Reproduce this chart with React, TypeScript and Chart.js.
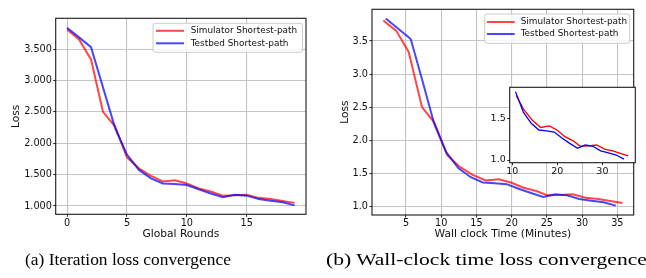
import { useEffect, useRef } from "react";
import { Chart, registerables } from "chart.js";

Chart.register(...registerables);

// ---------------- data ----------------
const rounds = [0, 1, 2, 3, 4, 5, 6, 7, 8, 9, 10, 11, 12, 13, 14, 15, 16, 17, 18, 19];
const simLoss = [3.81, 3.654, 3.335, 2.5, 2.27, 1.775, 1.6, 1.48, 1.39, 1.41, 1.36, 1.28, 1.23, 1.165, 1.17, 1.18, 1.13, 1.11, 1.08, 1.05];
const testLoss = [3.84, 3.686, 3.53, 2.89, 2.25, 1.82, 1.575, 1.44, 1.36, 1.35, 1.335, 1.265, 1.2, 1.14, 1.18, 1.165, 1.11, 1.085, 1.06, 1.01];
const simTime = [1.78, 3.62, 5.38, 7.27, 9.0, 10.85, 12.6, 14.4, 16.3, 18.2, 19.9, 21.7, 23.5, 25.1, 26.9, 28.7, 30.5, 32.3, 34.0, 35.73];
const testTime = [2.12, 3.9, 5.67, 7.35, 9.0, 10.7, 12.45, 14.2, 15.9, 17.6, 19.3, 21.0, 22.75, 24.48, 26.2, 27.9, 29.6, 31.35, 33.05, 34.79];

const seriesNames = ["Simulator Shortest-path", "Testbed Shortest-path"];
const roundTicks = [0, 5, 10, 15];
const timeTicks = [5, 10, 15, 20, 25, 30, 35];
const lossTicks = [1.0, 1.5, 2.0, 2.5, 3.0, 3.5];
const insetTimeTicks = [10, 20, 30];
const insetLossTicks = [1.0, 1.5];
const insetStartIndex = 5;
const captions = ["(a) Iteration loss convergence", "(b) Wall-clock time loss convergence"];
const axisTitles = { roundsX: "Global Rounds", timeX: "Wall clock Time (Minutes)", lossY: "Loss" };

// ---------------- styles ----------------
const FONT = "DejaVu Sans";
const RED_A = "rgba(255,0,0,0.72)";
const BLUE_A = "rgba(0,0,255,0.72)";
const TEXT = "#111111";
const GRID = "#c4c4c4";

const zip = (xs: number[], ys: number[]) => xs.map((x, i) => ({ x, y: ys[i] }));

const framePlugin = {
  id: "frame",
  beforeDraw(chart: any) {
    const o = chart.options.plugins.frame || {};
    if (!o.fill) return;
    const { ctx, chartArea: a } = chart;
    ctx.save();
    ctx.fillStyle = o.fill;
    ctx.fillRect(a.left, a.top, a.right - a.left, a.bottom - a.top);
    ctx.restore();
  },
  afterDatasetsDraw(chart: any) {
    const { ctx, chartArea: a } = chart;
    ctx.save();
    ctx.strokeStyle = "#1a1a1a";
    ctx.lineWidth = 1.1;
    ctx.strokeRect(a.left, a.top, a.right - a.left, a.bottom - a.top);
    ctx.restore();
  },
};

function makeLegendPlugin(box: { x: number; y: number; w: number; h: number; r1: number; r2: number; s0: number; s1: number; tx: number }) {
  return {
    id: "boxLegend",
    afterDraw(chart: any) {
      const ctx = chart.ctx;
      ctx.save();
      const { x, y, w, h } = box;
      const r = 2.5;
      ctx.beginPath();
      ctx.moveTo(x + r, y);
      ctx.lineTo(x + w - r, y);
      ctx.quadraticCurveTo(x + w, y, x + w, y + r);
      ctx.lineTo(x + w, y + h - r);
      ctx.quadraticCurveTo(x + w, y + h, x + w - r, y + h);
      ctx.lineTo(x + r, y + h);
      ctx.quadraticCurveTo(x, y + h, x, y + h - r);
      ctx.lineTo(x, y + r);
      ctx.quadraticCurveTo(x, y, x + r, y);
      ctx.closePath();
      ctx.fillStyle = "rgba(255,255,255,0.8)";
      ctx.fill();
      ctx.strokeStyle = "#cccccc";
      ctx.lineWidth = 1;
      ctx.stroke();
      const rows = [box.r1, box.r2];
      chart.data.datasets.forEach((ds: any, i: number) => {
        const ry = y + rows[i];
        ctx.strokeStyle = ds.borderColor;
        ctx.lineWidth = 2;
        ctx.beginPath();
        ctx.moveTo(x + box.s0, ry);
        ctx.lineTo(x + box.s1, ry);
        ctx.stroke();
        ctx.fillStyle = TEXT;
        ctx.font = `8.9px "${FONT}"`;
        ctx.textBaseline = "middle";
        ctx.textAlign = "left";
        ctx.fillText(ds.label, x + box.tx, ry);
      });
      ctx.restore();
    },
  };
}

type MainOpts = {
  simX: number[];
  testX: number[];
  xMin: number;
  xMax: number;
  yMin: number;
  yMax: number;
  xTicks: number[];
  yTicks: number[];
  yFmt: (v: number) => string;
  xTitle: string;
  pad: { top: number; right: number };
  yWidth: number;
  xHeight: number;
  yTitlePad: number;
  xTitlePad: number;
  yTickPad: number;
  legend: any;
};

function mainConfig(o: MainOpts): any {
  return {
    type: "line",
    data: {
      datasets: [
        { label: seriesNames[0], data: zip(o.simX, simLoss), borderColor: RED_A, borderWidth: 2, pointRadius: 0, tension: 0, order: 2, fill: false },
        { label: seriesNames[1], data: zip(o.testX, testLoss), borderColor: BLUE_A, borderWidth: 2, pointRadius: 0, tension: 0, order: 1, fill: false },
      ],
    },
    options: {
      animation: false,
      responsive: false,
      events: [],
      layout: { padding: { left: 0, top: o.pad.top, right: o.pad.right, bottom: 0 } },
      plugins: { legend: { display: false }, tooltip: { enabled: false }, frame: {} },
      scales: {
        x: {
          type: "linear",
          min: o.xMin,
          max: o.xMax,
          afterBuildTicks: (s: any) => {
            s.ticks = o.xTicks.map((v) => ({ value: v }));
          },
          afterFit: (s: any) => {
            s.height = o.xHeight;
          },
          ticks: { color: TEXT, font: { family: FONT, size: 9.7 }, padding: 0.5, maxRotation: 0, autoSkip: false, callback: (v: number) => String(v) },
          title: { display: true, text: o.xTitle, color: TEXT, font: { family: FONT, size: 10.7 }, padding: { top: 0, bottom: o.xTitlePad } },
          grid: { color: GRID, lineWidth: 1.1, drawTicks: true, tickLength: 2.5, tickColor: "#222", tickWidth: 1 },
          border: { display: false },
        },
        y: {
          type: "linear",
          min: o.yMin,
          max: o.yMax,
          afterBuildTicks: (s: any) => {
            s.ticks = o.yTicks.map((v) => ({ value: v }));
          },
          afterFit: (s: any) => {
            s.width = o.yWidth;
          },
          ticks: { color: TEXT, font: { family: FONT, size: 9.7 }, padding: o.yTickPad, autoSkip: false, callback: (v: number) => o.yFmt(v) },
          title: { display: true, text: axisTitles.lossY, color: TEXT, font: { family: FONT, size: 10.7 }, padding: { top: o.yTitlePad, bottom: 0 } },
          grid: { color: GRID, lineWidth: 1.1, drawTicks: true, tickLength: 2.5, tickColor: "#222", tickWidth: 1 },
          border: { display: false },
        },
      },
    },
    plugins: [framePlugin, makeLegendPlugin(o.legend)],
  };
}

function insetConfig(): any {
  return {
    type: "line",
    data: {
      datasets: [
        { label: seriesNames[0], data: zip(simTime.slice(insetStartIndex), simLoss.slice(insetStartIndex)), borderColor: "#ff0000", borderWidth: 1.3, pointRadius: 0, tension: 0, order: 2 },
        { label: seriesNames[1], data: zip(testTime.slice(insetStartIndex), testLoss.slice(insetStartIndex)), borderColor: "#0000ff", borderWidth: 1.3, pointRadius: 0, tension: 0, order: 1 },
      ],
    },
    options: {
      animation: false,
      responsive: false,
      events: [],
      layout: { padding: { left: 0, top: 7.3, right: 10.7, bottom: 0 } },
      plugins: { legend: { display: false }, tooltip: { enabled: false }, frame: { fill: "#ffffff" } },
      scales: {
        x: {
          type: "linear",
          min: 9.42,
          max: 37.3,
          afterBuildTicks: (s: any) => {
            s.ticks = insetTimeTicks.map((v) => ({ value: v }));
          },
          afterFit: (s: any) => {
            s.height = 17.3;
          },
          ticks: { color: TEXT, font: { family: FONT, size: 9.5 }, padding: 0.3, maxRotation: 0, autoSkip: false, callback: (v: number) => String(v) },
          grid: { display: true, drawOnChartArea: false, drawTicks: true, tickLength: 2.5, tickColor: "#222", tickWidth: 1, color: "#222" },
          border: { display: false },
        },
        y: {
          type: "linear",
          min: 0.968,
          max: 1.872,
          afterBuildTicks: (s: any) => {
            s.ticks = insetLossTicks.map((v) => ({ value: v }));
          },
          afterFit: (s: any) => {
            s.width = 29.7;
          },
          ticks: { color: TEXT, font: { family: FONT, size: 9.5 }, padding: 1.5, autoSkip: false, callback: (v: number) => v.toFixed(1) },
          grid: { display: true, drawOnChartArea: false, drawTicks: true, tickLength: 2.5, tickColor: "#222", tickWidth: 1, color: "#222" },
          border: { display: false },
        },
      },
    },
    plugins: [framePlugin],
  };
}

export default function App() {
  const leftRef = useRef<HTMLCanvasElement>(null);
  const rightRef = useRef<HTMLCanvasElement>(null);
  const insetRef = useRef<HTMLCanvasElement>(null);

  useEffect(() => {
    const charts: Chart[] = [];
    if (leftRef.current) {
      charts.push(
        new Chart(
          leftRef.current,
          mainConfig({
            simX: rounds,
            testX: rounds,
            xMin: -0.95,
            xMax: 19.95,
            yMin: 0.868,
            yMax: 3.99,
            xTicks: roundTicks,
            yTicks: lossTicks,
            yFmt: (v) => v.toFixed(3),
            xTitle: axisTitles.roundsX,
            pad: { top: 18.3, right: 17 },
            yWidth: 55.7,
            xHeight: 35.7,
            yTitlePad: 9.6,
            xTitlePad: 9.1,
            yTickPad: 1.3,
            legend: { x: 153, y: 23.3, w: 149.5, h: 29, r1: 7.5, r2: 20, s0: 3, s1: 31, tx: 37.7 },
          })
        )
      );
    }
    if (rightRef.current) {
      charts.push(
        new Chart(
          rightRef.current,
          mainConfig({
            simX: simTime,
            testX: testTime,
            xMin: 0.17,
            xMax: 37.33,
            yMin: 0.868,
            yMax: 3.98,
            xTicks: timeTicks,
            yTicks: lossTicks,
            yFmt: (v) => v.toFixed(1),
            xTitle: axisTitles.timeX,
            pad: { top: 9.3, right: 12.3 },
            yWidth: 49,
            xHeight: 35,
            yTitlePad: 16,
            xTitlePad: 9.6,
            yTickPad: 1.5,
            legend: { x: 161.7, y: 14, w: 145, h: 29.3, r1: 8, r2: 20, s0: 2.3, s1: 30, tx: 36 },
          })
        )
      );
    }
    if (insetRef.current) {
      charts.push(new Chart(insetRef.current, insetConfig()));
    }
    return () => charts.forEach((c) => c.destroy());
  }, []);

  const capStyle: any = {
    position: "absolute",
    top: 251.4,
    fontFamily: '"Liberation Serif", "Times New Roman", serif',
    fontSize: 17.4,
    lineHeight: "17.4px",
    whiteSpace: "nowrap",
    color: "#000",
    transformOrigin: "0 0",
  };

  return (
    <div style={{ position: "absolute", left: 0, top: 0, width: 646, height: 278, background: "#fff", overflow: "hidden" }}>
      <canvas ref={leftRef} width={323} height={250} style={{ position: "absolute", left: 0, top: 0, width: 323, height: 250 }} />
      <canvas ref={rightRef} width={323} height={250} style={{ position: "absolute", left: 323, top: 0, width: 323, height: 250 }} />
      <canvas ref={insetRef} width={166} height={100} style={{ position: "absolute", left: 480, top: 80, width: 166, height: 100 }} />
      <div style={{ ...capStyle, left: 25 }}>{captions[0]}</div>
      <div style={{ ...capStyle, left: 326, transform: "scaleX(1.24)" }}>{captions[1]}</div>
    </div>
  );
}
